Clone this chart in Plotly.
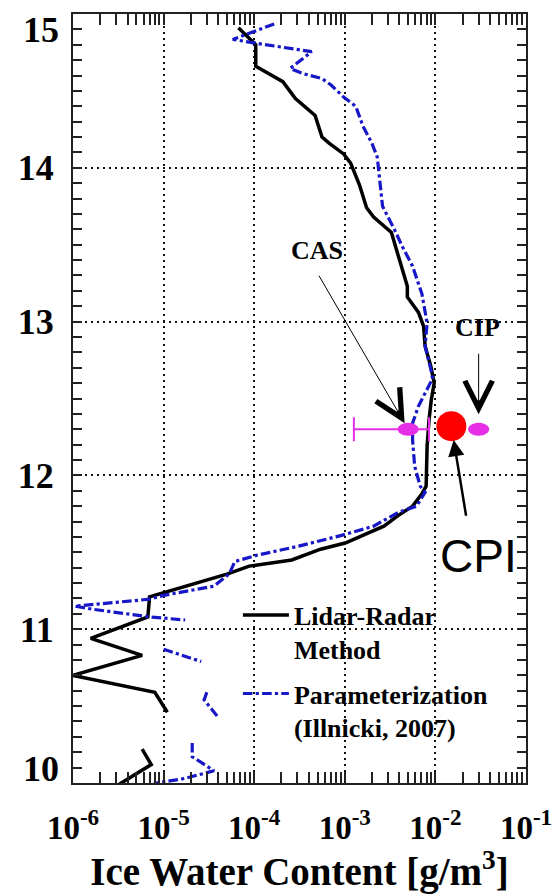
import numpy as np
import plotly.graph_objects as go

# Lidar-Radar method retrieval: altitude (km) and ice water content (g/m^3)
lidar_alt = [14.91, 14.80, 14.66, 14.56, 14.45, 14.34, 14.20, 14.16, 14.09, 14.03,
             13.89, 13.74, 13.68, 13.58, 13.42, 13.23, 13.16, 13.06, 12.97, 12.84,
             12.71, 12.60, 12.49, 12.36, 12.19, 11.93, 11.88, 11.80, 11.74, 11.67,
             11.56, 11.52, 11.45, 11.41, 11.36, 11.21, 11.08, 10.94, 10.83, 10.70,
             10.59, 10.46, None, 10.22, 10.12, 9.99]
lidar_iwc = [6.7e-5, 1.04e-4, 1.04e-4, 2.07e-4, 2.85e-4, 4.7e-4, 5.6e-4, 6.7e-4, 9.7e-4, 1.16e-3,
             1.45e-3, 1.74e-3, 2.08e-3, 3.27e-3, 3.93e-3, 4.9e-3, 4.9e-3, 6.5e-3, 7.4e-3, 7.7e-3,
             8.9e-3, 9.7e-3, 9.0e-3, 8.5e-3, 8.1e-3, 7.9e-3, 7.1e-3, 5.6e-3, 3.9e-3, 2.7e-3,
             1.01e-3, 5.4e-4, 2.6e-4, 8.8e-5, 5.1e-5, 7.0e-6, 6.7e-6, 1.57e-6, 5.8e-6, 1.0e-6,
             8.0e-6, 1.1e-5, None, 5.8e-6, 7.3e-6, 3.2e-6]

# Parameterization (Illnicki, 2007)
param_alt = [14.935, 14.835, 14.81, 14.755, 14.646, 14.614, 14.58, 14.54, 14.46, 14.40,
             14.27, 14.16, 14.07, 13.94, 13.75, 13.59, 13.49, 13.36, 13.18, 12.99,
             12.84, 12.69, 12.63, 12.56, 12.45, 12.34, 12.23, 12.06, 11.93, 11.89,
             11.80, 11.76, 11.67, 11.61, 11.54, 11.48, 11.44, 11.41, 11.36, 11.28,
             11.22, 11.195, 11.17, 11.15, 11.13, 11.08, 11.06, None,
             10.87, 10.79, None,
             10.59, 10.54, 10.42, None,
             10.26, 10.17, 10.14, 10.08, 10.03, 10.00, 9.99]
param_iwc = [1.66e-4, 5.8e-5, 1.05e-4, 4.3e-4, 2.5e-4, 3.4e-4, 5.6e-4, 7.0e-4, 9.7e-4, 1.32e-3,
             1.59e-3, 1.99e-3, 2.28e-3, 2.39e-3, 2.61e-3, 3.59e-3, 4.3e-3, 5.6e-3, 7.1e-3, 8.1e-3,
             7.7e-3, 8.9e-3, 9.3e-3, 8.1e-3, 6.5e-3, 5.6e-3, 5.6e-3, 5.9e-3, 6.8e-3, 7.7e-3,
             6.2e-3, 3.9e-3, 2.08e-3, 9.2e-4, 3.1e-4, 1.05e-4, 6.1e-5, 5.8e-5, 5.3e-5, 3.6e-5,
             1.0e-5, 7.0e-6, 2.4e-6, 1.05e-6, 1.64e-6, 7.0e-6, 1.73e-5, None,
             1.0e-5, 2.6e-5, None,
             3.0e-5, 2.8e-5, 4.1e-5, None,
             2.07e-5, 2.07e-5, 2.5e-5, 3.6e-5, 1.73e-5, 8.4e-6, 7.7e-6]

# In-situ probes
cas_alt, cas_iwc = 12.30, 5.0e-3
cas_low, cas_high = 1.26e-3, 8.5e-3
cip_alt, cip_iwc = 12.30, 3.0e-2
cpi_alt, cpi_iwc = 12.32, 1.5e-2

x_tickvals = [1e-6, 1e-5, 1e-4, 1e-3, 1e-2, 1e-1]
x_ticktext = ["10<sup>-6</sup>", "10<sup>-5</sup>", "10<sup>-4</sup>",
              "10<sup>-3</sup>", "10<sup>-2</sup>", "10<sup>-1</sup>"]
y_tickvals = [11, 12, 13, 14]
y_ticktext = ["11", "12", "13", "14"]

SERIF = "Liberation Serif"
BLUE = "#1717c8"
MAGENTA = "#e62ee6"

fig = go.Figure()

fig.add_trace(go.Scatter(
    x=lidar_iwc, y=lidar_alt, mode="lines", name="Lidar-Radar<br>Method",
    line=dict(color="black", width=3.5), legendgroup="a", connectgaps=False))
fig.add_trace(go.Scatter(
    x=param_iwc, y=param_alt, mode="lines", name="Parameterization<br>(Illnicki, 2007)",
    line=dict(color=BLUE, width=3.2, dash="dashdot"), legendgroup="b", connectgaps=False))

# CAS with its range bar
fig.add_trace(go.Scatter(
    x=[cas_iwc], y=[cas_alt], mode="markers", showlegend=False,
    marker=dict(size=1, color=MAGENTA),
    error_x=dict(type="data", symmetric=False,
                 array=[cas_high - cas_iwc], arrayminus=[cas_iwc - cas_low],
                 color=MAGENTA, thickness=2, width=12)))
# CPI
fig.add_trace(go.Scatter(
    x=[cpi_iwc], y=[cpi_alt], mode="markers", showlegend=False,
    marker=dict(size=30, color="#ff0000", line=dict(width=0))))

# elliptical markers (pixel-sized) for CAS and CIP
t = np.linspace(0, 2 * np.pi, 25)[:-1]
ell = "M" + " L".join(f"{10.5*np.cos(a):.2f},{6.5*np.sin(a):.2f}" for a in t) + " Z"
for xv, yv in [(cas_iwc, cas_alt), (cip_iwc, cip_alt)]:
    fig.add_shape(type="path", xref="x", yref="y",
                  xsizemode="pixel", ysizemode="pixel",
                  xanchor=xv, yanchor=yv, path=ell,
                  fillcolor=MAGENTA, line=dict(width=0), layer="above")

lab_font = dict(family=SERIF, size=26, color="black", weight="bold")

# CAS label and arrow
fig.add_annotation(x=np.log10(cas_iwc), y=cas_alt, text="", showarrow=True,
                   ax=-90, ay=-155, arrowhead=5, arrowsize=5.4, arrowwidth=1,
                   arrowcolor="black", standoff=7)
fig.add_annotation(x=np.log10(cas_iwc), y=cas_alt, text="CAS", showarrow=False,
                   xshift=-91, yshift=179, font=lab_font)
# CIP label and arrow
fig.add_annotation(x=np.log10(cip_iwc), y=cip_alt, text="", showarrow=True,
                   ax=0, ay=-77, arrowhead=5, arrowsize=5.4, arrowwidth=1,
                   arrowcolor="black", standoff=15)
fig.add_annotation(x=np.log10(cip_iwc), y=cip_alt, text="CIP", showarrow=False,
                   xshift=-1, yshift=102, font=lab_font)
# CPI label and arrow
fig.add_annotation(x=np.log10(cpi_iwc), y=cpi_alt, text="", showarrow=True,
                   ax=15, ay=91, arrowhead=2, arrowsize=1.3, arrowwidth=2.5,
                   arrowcolor="black", standoff=14)
fig.add_annotation(x=np.log10(cpi_iwc), y=cpi_alt, text="CPI", showarrow=False,
                   xshift=27, yshift=-130,
                   font=dict(family="Liberation Sans", size=46, color="black"))

# end labels of the altitude axis, set inside the frame
tick_font = dict(family=SERIF, size=36, color="black", weight="bold")
fig.add_annotation(xref="paper", x=0, xanchor="right", xshift=-12, y=15, yref="y",
                   yshift=-16, text="15", showarrow=False, font=tick_font)
fig.add_annotation(xref="paper", x=0, xanchor="right", xshift=-12, y=10, yref="y",
                   yshift=14, text="10", showarrow=False, font=tick_font)

grid = dict(showgrid=True, gridcolor="#111111", gridwidth=1.5, griddash="2px,4px")
frame = dict(showline=True, linecolor="#222222", linewidth=2, mirror="allticks",
             ticks="inside", tickcolor="#222222", tickwidth=2, zeroline=False,
             automargin=False)

fig.update_xaxes(type="log", range=[-6, -1], tickmode="array",
                 tickvals=x_tickvals, ticktext=x_ticktext, ticklen=11,
                 tickfont=dict(family=SERIF, size=33, color="black", weight="bold"),
                 ticklabelstandoff=14,
                 minor=dict(ticks="inside", ticklen=11, tickwidth=2, tickcolor="#222222",
                            dtick="D1", showgrid=False),
                 title=dict(text="Ice Water Content [g/m<sup>3</sup>]", standoff=23,
                            font=dict(family=SERIF, size=39, color="black", weight="bold")),
                 **grid, **frame)
fig.update_yaxes(range=[10, 15], tickmode="array", tickvals=y_tickvals,
                 ticktext=y_ticktext, ticklen=9, ticklabelstandoff=10,
                 tickfont=tick_font,
                 minor=dict(ticks="inside", ticklen=9, tickwidth=2, tickcolor="#222222",
                            dtick=0.1, showgrid=False),
                 **grid, **frame)

fig.update_layout(
    width=558, height=894,
    margin=dict(l=73, r=32, t=14, b=111),
    plot_bgcolor="white", paper_bgcolor="white",
    showlegend=True,
    legend=dict(x=0.364, y=0.249, xanchor="left", yanchor="top",
                bgcolor="rgba(0,0,0,0)", borderwidth=0, valign="top",
                itemwidth=46, tracegroupgap=8,
                font=dict(family=SERIF, size=26, color="black", weight="bold")),
)

fig.write_html("out.html")
